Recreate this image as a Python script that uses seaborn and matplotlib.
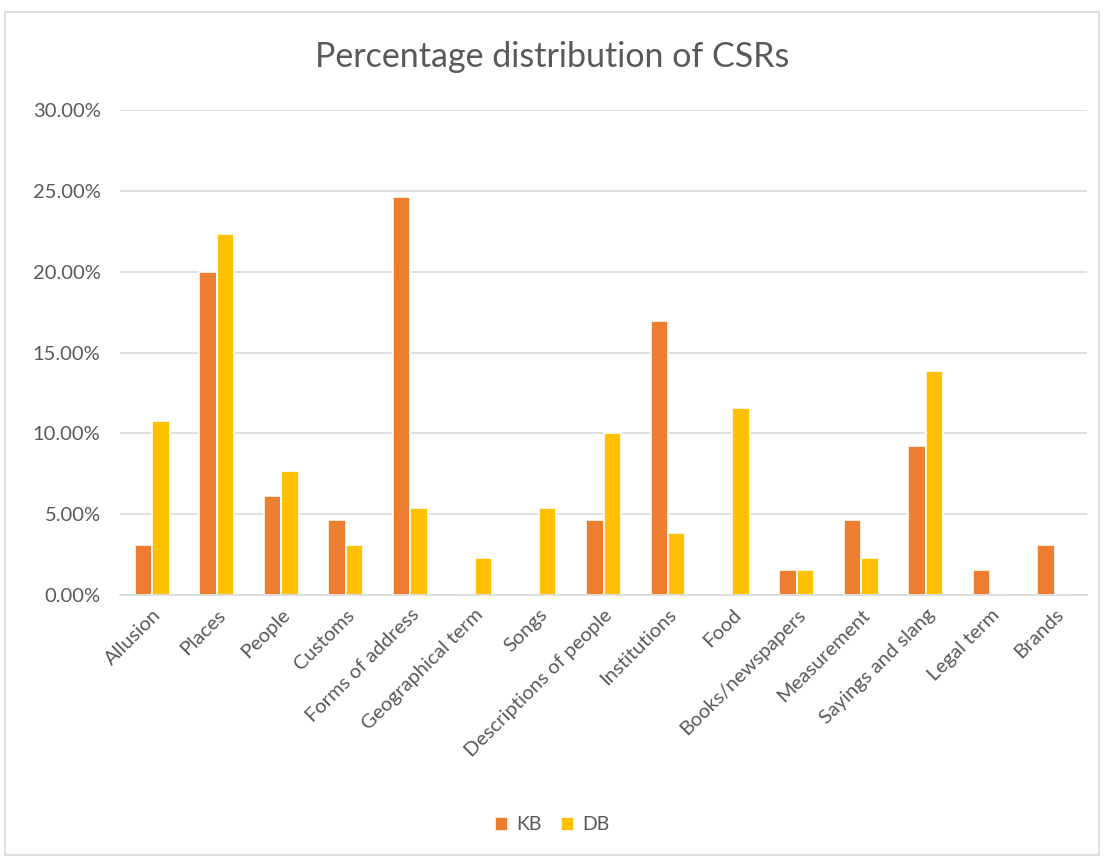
import pandas as pd
import numpy as np
import matplotlib
matplotlib.use('Agg')
import matplotlib.pyplot as plt
import seaborn as sns
from matplotlib.patches import Rectangle
from matplotlib.ticker import PercentFormatter


#Data (percent)
categories = ['Allusion', 'Places', 'People', 'Customs', 'Forms of address',
              'Geographical term', 'Songs', 'Descriptions of people', 'Institutions',
              'Food', 'Books/newspapers', 'Measurement', 'Sayings and slang',
              'Legal term', 'Brands']
kb = [3.08, 20.00, 6.15, 4.62, 24.62, 0, 0, 4.62, 16.92, 0, 1.54, 4.62, 9.23, 1.54, 3.08]
db = [10.77, 22.31, 7.69, 3.08, 5.38, 2.31, 5.38, 10.00, 3.85, 11.54, 1.54, 2.31, 13.85, 0, 0]
series = ['KB', 'DB']
colors = ['#ED7D31', '#FFC000']

df = pd.DataFrame({'Category': categories * 2,
                   'Value': kb + db,
                   'Series': ['KB'] * len(kb) + ['DB'] * len(db)})


#Style
sns.set_style('white')
plt.rcParams['font.family'] = ['Lato', 'DejaVu Sans']
text_color = '#595959'

fig = plt.figure(figsize=(11.04, 8.58), dpi=100)
ax = fig.add_axes([120 / 1104, 1 - 595 / 858, (1087 - 120) / 1104, (595 - 110) / 858])

sns.barplot(data=df, x='Category', y='Value', hue='Series', hue_order=series,
            palette=colors, width=0.54, edgecolor='white', linewidth=1.2,
            saturation=1, ax=ax, zorder=3)

ax.set_ylim(0, 30)
ax.set_yticks(np.arange(0, 30.1, 5))
ax.yaxis.set_major_formatter(PercentFormatter(decimals=2))
ax.grid(axis='y', color='#D9D9D9', linewidth=1.2, zorder=0)
ax.set_axisbelow(True)
for s in ['top', 'right', 'left']:
    ax.spines[s].set_visible(False)
ax.spines['bottom'].set_color('#D9D9D9')
ax.spines['bottom'].set_linewidth(1.2)
ax.spines['bottom'].set_zorder(4)
ax.set_xlabel('')
ax.set_ylabel('')
ax.tick_params(axis='both', length=0, labelsize=14.5, colors=text_color)
ax.tick_params(axis='y', pad=14)
ax.tick_params(axis='x', pad=8)
plt.setp(ax.get_xticklabels(), rotation=45, ha='right', rotation_mode='anchor')

fig.text(0.5, 1 - 57 / 858, 'Percentage distribution of CSRs', ha='center', va='center',
         fontsize=24.5, color=text_color)

#Legend at the bottom
leg = ax.legend(loc='center', bbox_to_anchor=(0.5, 1 - 825 / 858), bbox_transform=fig.transFigure,
                ncol=2, frameon=False, fontsize=14, handlelength=0.7, handleheight=0.7,
                columnspacing=1.0, handletextpad=0.4)
for t in leg.get_texts():
    t.set_color(text_color)

#Chart border
fig.add_artist(Rectangle((5 / 1104, 3 / 858), 1094 / 1104, 843 / 858, transform=fig.transFigure,
                         fill=False, edgecolor='#D9D9D9', linewidth=1.2))

fig.savefig('out.png', dpi=100)
